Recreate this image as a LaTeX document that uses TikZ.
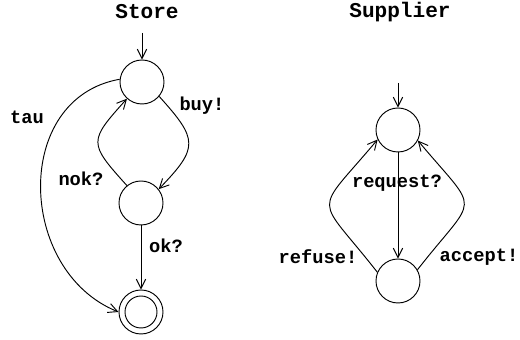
\documentclass[tikz,border=0pt]{standalone}
\usepackage{fontspec}
\setmonofont{Liberation Mono}
\usetikzlibrary{arrows.meta}

\begin{document}
\begin{tikzpicture}[x=0.03cm, y=0.03cm, line width=0.8pt,
  >={Straight Barb[length=8pt,width=8pt]},
  state/.style={circle, draw, minimum size=1.32cm, inner sep=0pt},
  final/.style={state, path picture={\draw (path picture bounding box.center) circle (0.48cm);}},
  lbl/.style={font=\fontsize{16}{18}\selectfont\ttfamily\bfseries},
  title/.style={font=\fontsize{18}{20}\selectfont\ttfamily\bfseries}]

\useasboundingbox (0,0) rectangle (520,340);

\node[title] (store) at (147,328) {Store};
\node[state] (s0) at (142,258) {};
\node[state] (s1) at (141,137) {};
\node[final] (s2) at (141,28) {};
\coordinate (s0in) at (142,307);

\node[lbl] (tau) at (27,223) {tau};
\node[lbl] (buy) at (202,234) {buy!};
\node[lbl] (nok) at (81,161) {nok?};
\node[lbl] (ok) at (166,94) {ok?};

\path[->]
(s0in) edge (s0)
(s0.173) edge [out=190, in=158, looseness=1.2] (s2.west)
(s0.-40) edge [out=-48, in=46, looseness=1.6] (s1.38)
(s1.129) edge [out=132, in=228, looseness=1.7] (s0.228)
(s1) edge (s2);

\node[title] (supplier) at (400,328) {Supplier};
\node[state] (t0) at (398,210) {};
\node[state] (t1) at (398,59) {};
\coordinate (t0in) at (398,257);

\node[lbl] (request) at (397,157) {request?};
\node[lbl] (refuse) at (318,83) {refuse!};
\node[lbl] (accept) at (479,83) {accept!};

\path[->]
(t0in) edge (t0)
(t0) edge (t1)
(t1.157) edge [out=128, in=230, looseness=1.95] (t0.205)
(t1.30) edge [out=52, in=-50, looseness=1.95] (t0.-28);

\end{tikzpicture}
\end{document}
